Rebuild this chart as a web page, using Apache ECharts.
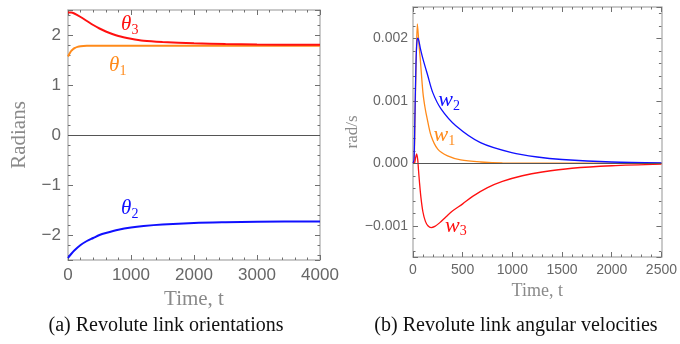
<!DOCTYPE html>
<html>
<head>
<meta charset="utf-8">
<script src="https://cdn.jsdelivr.net/npm/echarts@6/dist/echarts.min.js"></script>
<style>
  html, body { margin: 0; padding: 0; background: #fff; }
  #chart { width: 680px; height: 344px; }
</style>
</head>
<body>
<div id="chart"></div>
<script>
// (a) link orientations, radians vs time
const theta1T = [0, 25, 50, 75, 100, 150, 200, 300, 500, 1000, 2000, 3000, 4000];
const theta1 = [1.57, 1.63, 1.68, 1.71, 1.735, 1.762, 1.775, 1.783, 1.786, 1.786, 1.786, 1.786, 1.786];
const theta2T = [0, 50, 100, 200, 300, 400, 500, 600, 800, 1000, 1200, 1500, 2000, 2500, 3000, 4000];
const theta2 = [-2.46, -2.38, -2.31, -2.2, -2.12, -2.06, -2.0, -1.96, -1.895, -1.85, -1.82, -1.79, -1.76, -1.745, -1.735, -1.73];
const theta3T = [0, 50, 100, 200, 300, 400, 500, 600, 800, 1000, 1200, 1500, 2000, 2500, 3000, 4000];
const theta3 = [2.45, 2.45, 2.43, 2.36, 2.28, 2.2, 2.13, 2.07, 1.98, 1.925, 1.885, 1.86, 1.835, 1.82, 1.81, 1.805];

// (b) angular velocities, rad/s vs time
const w1T = [0, 10, 20, 30, 44, 60, 73, 100, 120, 143, 182, 249, 348, 480, 680, 900, 2500];
const w1 = [0, 0, 0.0007, 0.0015, 0.00223, 0.0019, 0.00167, 0.00113, 0.0009, 0.00071, 0.00044, 0.000225, 0.000117, 0.000053, 0.00002, 0.000005, 0];
const w2T = [0, 10, 20, 30, 40, 50, 75, 100, 149, 199, 282, 431, 679, 993, 1250, 1500, 2000, 2500];
const w2 = [0, 0.00005, 0.0008, 0.0016, 0.00195, 0.002, 0.00183, 0.00167, 0.0014, 0.00113, 0.00087, 0.0006, 0.00033, 0.00017, 0.0001, 0.00006, 0.00002, 0.000007];
const w3T = [0, 15, 25, 37, 48, 55, 65, 80, 100, 125, 150, 182, 220, 270, 330, 400, 500, 600, 750, 900, 1100, 1300, 1600, 2000, 2500];
const w3 = [0, 0, 0.00008, 0.00015, 0.00005, -0.0001, -0.0003, -0.00055, -0.00078, -0.00093, -0.001, -0.00103, -0.00101, -0.00095, -0.00086, -0.00076, -0.00065, -0.00053, -0.00039, -0.00029, -0.0002, -0.00014, -0.00008, -0.00004, -0.000015];

// where the curve names sit, in data coords
const thetaLabelAt = [[790, 1.4], [980, -1.46], [980, 2.22]];
const wLabelAt = [[315, 0.00045], [364, 0.00101], [432, -0.001]];

const RED = '#ff1010';
const ORANGE = '#ff8a1a';
const BLUE = '#1010ff';
const FRAME = '#b8b8b8';
const TICK = '#707070';

const zip = (xs, ys) => xs.map((x, i) => [x, ys[i]]);
const minus = s => String(s).replace('-', '\u2212');

function axis(dim, gridIndex, mirror, o) {
  const a = {
    type: 'value',
    gridIndex: gridIndex,
    position: dim === 'x' ? (mirror ? 'top' : 'bottom') : (mirror ? 'right' : 'left'),
    min: o.min,
    max: o.max,
    axisLine: { show: true, onZero: false, lineStyle: { color: FRAME, width: 1.5 } },
    axisTick: { show: true, inside: true, length: 5, lineStyle: { color: TICK } },
    minorTick: { show: true, splitNumber: 5, length: 2.5, lineStyle: { color: TICK } },
    splitLine: { show: false },
    axisLabel: { show: false }
  };
  if (o.interval) a.interval = o.interval;
  if (o.splitNumber) a.splitNumber = o.splitNumber;
  if (!mirror) {
    a.axisLabel = {
      show: true,
      color: '#666',
      fontFamily: 'Liberation Sans',
      fontSize: o.fontSize,
      margin: o.margin,
      showMinLabel: dim === 'x',
      showMaxLabel: dim === 'x',
      formatter: o.formatter || minus
    };
    a.name = o.name;
    a.nameLocation = 'middle';
    a.nameGap = o.nameGap;
    a.nameTextStyle = { fontFamily: 'Liberation Serif', fontSize: o.nameSize, color: '#8a8a8a' };
  }
  return a;
}

function subLabel(sym, sub, at, color, size) {
  return {
    symbol: 'circle',
    symbolSize: 0,
    silent: true,
    data: [{ coord: at }],
    label: {
      show: true,
      position: 'inside',
      formatter: '{v|' + sym + '}{s|' + sub + '}',
      rich: {
        v: { fontFamily: 'Liberation Serif', fontStyle: 'italic', fontSize: size, color: color },
        s: { fontFamily: 'Liberation Serif', fontSize: 14, color: color, padding: [12, 0, 0, 0] }
      }
    }
  };
}

function curve(name, data, xi, color, width, mark) {
  return {
    type: 'line',
    name: name,
    xAxisIndex: xi,
    yAxisIndex: xi,
    data: data,
    showSymbol: false,
    smooth: 0.3,
    lineStyle: { color: color, width: width },
    markPoint: mark,
    z: 3
  };
}

function zeroLine(xi) {
  return {
    type: 'line',
    xAxisIndex: xi,
    yAxisIndex: xi,
    data: [],
    markLine: {
      silent: true,
      symbol: 'none',
      label: { show: false },
      lineStyle: { color: '#555', width: 1, type: 'solid' },
      data: [{ yAxis: 0 }]
    },
    z: 2
  };
}

const chart = echarts.init(document.getElementById('chart'));

chart.setOption({
  backgroundColor: '#fff',
  animation: false,
  grid: [
    { left: 68, top: 10, width: 252, height: 250 },
    { left: 413, top: 7, width: 252, height: 250 }
  ],
  xAxis: [
    axis('x', 0, false, { min: 0, max: 4000, interval: 1000, fontSize: 17, margin: 7, name: 'Time, t', nameGap: 28, nameSize: 21 }),
    axis('x', 1, false, { min: 0, max: 2500, interval: 500, fontSize: 14, margin: 6, name: 'Time, t', nameGap: 24, nameSize: 18 }),
    axis('x', 0, true, { min: 0, max: 4000, interval: 1000 }),
    axis('x', 1, true, { min: 0, max: 2500, interval: 500 })
  ],
  yAxis: [
    axis('y', 0, false, { min: -2.5, max: 2.5, splitNumber: 5, fontSize: 17, margin: 7, name: 'Radians', nameGap: 38, nameSize: 21 }),
    axis('y', 1, false, { min: -0.0015, max: 0.0025, splitNumber: 4, fontSize: 14, margin: 5, name: 'rad/s', nameGap: 52, nameSize: 17,
      formatter: v => minus(v.toFixed(3)) }),
    axis('y', 0, true, { min: -2.5, max: 2.5, splitNumber: 5 }),
    axis('y', 1, true, { min: -0.0015, max: 0.0025, splitNumber: 4 })
  ],
  series: [
    zeroLine(0),
    zeroLine(1),
    curve('theta1', zip(theta1T, theta1), 0, ORANGE, 2, subLabel('\u03b8', '1', thetaLabelAt[0], ORANGE, 21)),
    curve('theta2', zip(theta2T, theta2), 0, BLUE, 2, subLabel('\u03b8', '2', thetaLabelAt[1], BLUE, 21)),
    curve('theta3', zip(theta3T, theta3), 0, RED, 2, subLabel('\u03b8', '3', thetaLabelAt[2], RED, 21)),
    curve('w1', zip(w1T, w1), 1, ORANGE, 1.3, subLabel('w', '1', wLabelAt[0], ORANGE, 22)),
    curve('w2', zip(w2T, w2), 1, BLUE, 1.3, subLabel('w', '2', wLabelAt[1], BLUE, 22)),
    curve('w3', zip(w3T, w3), 1, RED, 1.3, subLabel('w', '3', wLabelAt[2], RED, 22))
  ],
  graphic: [
    { type: 'text', x: 166, y: 326, style: { text: '(a) Revolute link orientations', font: '20px "Liberation Serif"', fill: '#111', textAlign: 'center', textVerticalAlign: 'middle' } },
    { type: 'text', x: 516, y: 326, style: { text: '(b) Revolute link angular velocities', font: '20px "Liberation Serif"', fill: '#111', textAlign: 'center', textVerticalAlign: 'middle' } }
  ]
});
</script>
</body>
</html>
